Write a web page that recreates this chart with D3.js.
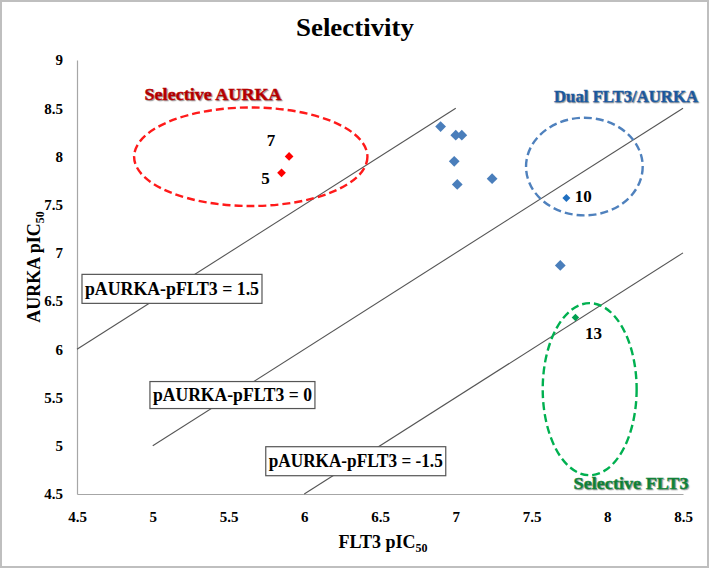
<!DOCTYPE html>
<html>
<head>
<meta charset="utf-8">
<script src="https://cdn.jsdelivr.net/npm/d3@7/dist/d3.min.js"></script>
<style>
  html, body { margin: 0; padding: 0; background: #fff; }
  svg text { font-family: "Liberation Serif", "Times New Roman", serif; }
</style>
</head>
<body>
<svg id="chart" width="709" height="568"></svg>
<script>
// ---- data ----
const xTicks = [4.5, 5, 5.5, 6, 6.5, 7, 7.5, 8, 8.5];
const yTicks = [4.5, 5, 5.5, 6, 6.5, 7, 7.5, 8, 8.5, 9];
const otherFLT3  = [6.90, 7.00, 7.04, 6.99, 7.01, 7.24, 7.69];
const otherAURKA = [8.31, 8.22, 8.22, 7.95, 7.71, 7.77, 6.87];
const labeledIds   = ["5", "7", "10", "13"];
const labeledFLT3  = [5.85, 5.90, 7.73, 7.79];
const labeledAURKA = [7.83, 8.00, 7.57, 6.33];
const labeledGroup = ["aurka", "aurka", "dual", "flt3"];
const lineOffsets = [1.5, 0, -1.5];
const lineStartX  = [4.5, 5, 6];
const lineEndX    = [7, 8.5, 8.5];
const lineLabels  = ["pAURKA-pFLT3 = 1.5", "pAURKA-pFLT3 = 0", "pAURKA-pFLT3 = -1.5"];
const regionNames = ["Selective AURKA", "Dual FLT3/AURKA", "Selective FLT3"];
const regionCx = [5.647, 7.849, 7.884];
const regionCy = [7.997, 7.895, 5.587];
const regionRx = [0.77, 0.385, 0.31];
const regionRy = [0.511, 0.506, 0.892];

// ---- layout ----
const W = 709, H = 568;
const margin = {left: 77, right: 26, top: 60, bottom: 74};
const svg = d3.select("#chart");
const x = d3.scaleLinear().domain([4.5, 8.5]).range([margin.left, W - margin.right]);
const y = d3.scaleLinear().domain([4.5, 9]).range([H - margin.bottom, margin.top]);

const colors = {
  aurka: {pt: "#FF0000", ell: "#FF1A1A", txt: "#C00000"},
  dual:  {pt: "#1F6FC0", ell: "#4F81BD", txt: "#1F5FA8"},
  flt3:  {pt: "#00A050", ell: "#00B050", txt: "#138A3C"}
};
const regionKeys = ["aurka", "dual", "flt3"];

// outer frame
svg.append("rect").attr("x", 1).attr("y", 1).attr("width", W - 2).attr("height", H - 2)
  .attr("fill", "#fff").attr("stroke", "#BFBFBF").attr("stroke-width", 2);

// title
svg.append("text").attr("x", 355).attr("y", 36).attr("text-anchor", "middle")
  .attr("font-size", 25).attr("font-weight", "bold")
  .attr("textLength", 118).attr("lengthAdjust", "spacingAndGlyphs").text("Selectivity");

// axes
const xAxis = svg.append("g").attr("transform", `translate(0,${y(4.5)})`)
  .call(d3.axisBottom(x).tickValues(xTicks).tickSize(0).tickPadding(17).tickFormat(d3.format("")));
const yAxis = svg.append("g").attr("transform", `translate(${x(4.5)},0)`)
  .call(d3.axisLeft(y).tickValues(yTicks).tickSize(0).tickPadding(14).tickFormat(d3.format("")));
[xAxis, yAxis].forEach(g => {
  g.select(".domain").attr("stroke", "#A6A6A6").attr("stroke-width", 1.2);
  g.selectAll("text").attr("font-size", 15).attr("font-weight", "bold")
    .attr("fill", "#000").style("font-family", '"Liberation Serif", serif');
});

// axis titles
const xt = svg.append("text").attr("x", 383).attr("y", 548).attr("text-anchor", "middle")
  .attr("font-size", 18).attr("font-weight", "bold");
xt.append("tspan").text("FLT3 pIC");
xt.append("tspan").attr("font-size", 12).attr("dy", 4).text("50");

const yt = svg.append("text").attr("transform", `translate(40,267) rotate(-90)`)
  .attr("text-anchor", "middle").attr("font-size", 18).attr("font-weight", "bold");
yt.append("tspan").text("AURKA pIC");
yt.append("tspan").attr("font-size", 12).attr("dy", 4).text("50");

// selectivity lines
lineOffsets.forEach((o, i) => {
  svg.append("line")
    .attr("x1", x(lineStartX[i])).attr("y1", y(lineStartX[i] + o))
    .attr("x2", x(lineEndX[i])).attr("y2", y(lineEndX[i] + o))
    .attr("stroke", "#555").attr("stroke-width", 1.1);
});

// line label boxes (anchored on the line at given x)
const boxAnchorX = [5.127, 5.526, 6.34];
const boxW = [180, 165, 180];
const boxH = [29, 27, 29];
lineOffsets.forEach((o, i) => {
  const cx = x(boxAnchorX[i]);
  const cy = y(boxAnchorX[i] + o);
  const g = svg.append("g");
  g.append("rect").attr("x", cx - boxW[i] / 2).attr("y", cy - boxH[i] / 2)
    .attr("width", boxW[i]).attr("height", boxH[i])
    .attr("fill", "#fff").attr("stroke", "#555").attr("stroke-width", 1.2);
  g.append("text").attr("x", cx).attr("y", cy + 6).attr("text-anchor", "middle")
    .attr("font-size", 18).attr("font-weight", "bold").attr("textLength", boxW[i] - 6)
    .attr("lengthAdjust", "spacingAndGlyphs").text(lineLabels[i]);
});

// ellipses
regionKeys.forEach((k, i) => {
  svg.append("ellipse")
    .attr("cx", x(regionCx[i])).attr("cy", y(regionCy[i]))
    .attr("rx", x(regionCx[i] + regionRx[i]) - x(regionCx[i]))
    .attr("ry", y(regionCy[i]) - y(regionCy[i] + regionRy[i]))
    .attr("fill", "none").attr("stroke", colors[k].ell)
    .attr("stroke-width", 2.4).attr("stroke-dasharray", "8,4");
});

// region labels
const regionLabelX = [5.398, 8.124, 8.157];
const regionLabelY = [8.585, 8.56, 4.555];
const regionLabelW = [137, 144, 115];
regionKeys.forEach((k, i) => {
  svg.append("text").attr("x", x(regionLabelX[i])).attr("y", y(regionLabelY[i]))
    .attr("text-anchor", "middle").attr("font-size", 17).attr("font-weight", "bold")
    .attr("fill", colors[k].txt).attr("stroke", colors[k].txt).attr("stroke-width", 0.4)
    .attr("textLength", regionLabelW[i]).attr("lengthAdjust", "spacingAndGlyphs")
    .style("text-shadow", "1px 1px 1px rgba(0,0,0,0.35)")
    .text(regionNames[i]);
});

// diamond symbol
const diamond = (s) => d3.symbol().type(d3.symbolSquare).size(s);

// other compounds
svg.append("g").selectAll("path").data(otherFLT3).join("path")
  .attr("d", diamond(58))
  .attr("transform", (d, i) => `translate(${x(d)},${y(otherAURKA[i])}) rotate(45)`)
  .attr("fill", "#4A7EBB");

// labeled compounds
const sizes = {aurka: 38, dual: 32, flt3: 28};
labeledIds.forEach((id, i) => {
  const k = labeledGroup[i];
  svg.append("path").attr("d", diamond(sizes[k])())
    .attr("transform", `translate(${x(labeledFLT3[i])},${y(labeledAURKA[i])}) rotate(45)`)
    .attr("fill", colors[k].pt);
});
const labelDx = [-16, -18, 17, 18];
const labelDy = [11, -10, 4, 21];
labeledIds.forEach((id, i) => {
  svg.append("text")
    .attr("x", x(labeledFLT3[i]) + labelDx[i]).attr("y", y(labeledAURKA[i]) + labelDy[i])
    .attr("text-anchor", "middle").attr("font-size", 17).attr("font-weight", "bold")
    .text(id);
});
</script>
</body>
</html>
